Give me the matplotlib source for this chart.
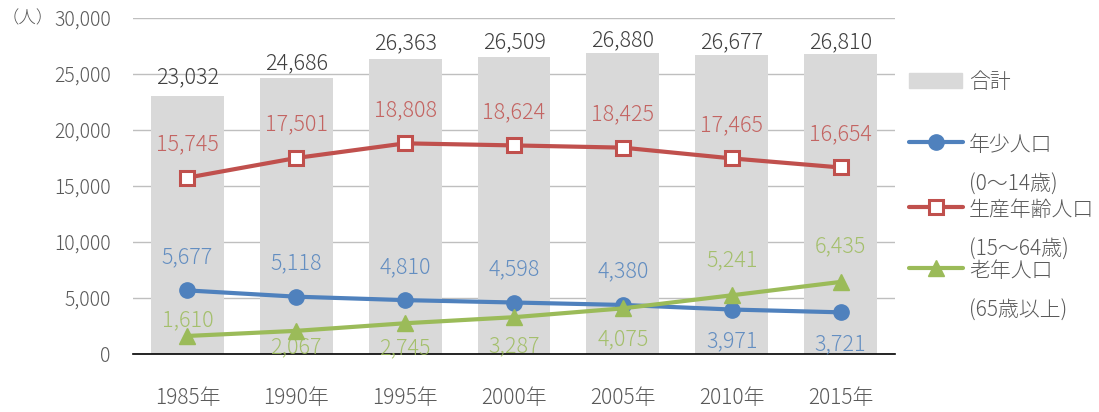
import matplotlib
matplotlib.use('Agg')
from matplotlib import pyplot as plt
from matplotlib.lines import Line2D
from matplotlib.patches import Rectangle

plt.rcParams['font.family'] = ['Noto Sans CJK JP', 'DejaVu Sans']
plt.rcParams['font.weight'] = 'light'

years = ['1985年', '1990年', '1995年', '2000年', '2005年', '2010年', '2015年']
total = [23032, 24686, 26363, 26509, 26880, 26677, 26810]
young = [5677, 5118, 4810, 4598, 4380, 3971, 3721]
working = [15745, 17501, 18808, 18624, 18425, 17465, 16654]
elderly = [1610, 2067, 2745, 3287, 4075, 5241, 6435]

# label offsets in points (above > 0, below < 0)
total_off = [13.7, 10.4, 11.2, 10.8, 9, 9, 8.6]
young_off = [24, 24, 24, 24, 24, -23, -23]
working_off = [24, 24, 24, 24, 24, 24, 24]
elderly_off = [11, -12, -18, -21, -22, 25, 26]

BLUE = '#4F81BD'
RED = '#C0504D'
GREEN = '#9BBB59'
GREY = '#D9D9D9'
TXT = '#595959'
LBL = 15.5


def main():
    fig = plt.figure(figsize=(10.99, 4.12), dpi=100)
    ax = fig.add_axes([133 / 1099, 58 / 412, 762 / 1099, 336 / 412])
    x = list(range(len(years)))

    ax.bar(x, total, width=0.67, color=GREY, zorder=1)
    for xi, v, o in zip(x, total, total_off):
        ax.annotate(f'{v:,}', (xi, v), xytext=(0, o), textcoords='offset points',
                    ha='center', va='center', fontsize=LBL, color='#404040')

    series = [
        (young, BLUE, dict(marker='o', markersize=11, markerfacecolor=BLUE), young_off),
        (working, RED, dict(marker='s', markersize=10, markerfacecolor='white',
                            markeredgewidth=2.2), working_off),
        (elderly, GREEN, dict(marker='^', markersize=12, markerfacecolor=GREEN), elderly_off),
    ]
    for vals, col, mk, offs in series:
        ax.plot(x, vals, color=col, lw=3, markeredgecolor=col, zorder=3, **mk)
        for xi, v, o in zip(x, vals, offs):
            ax.annotate(f'{v:,}', (xi, v), xytext=(0, o), textcoords='offset points',
                        ha='center', va='center', fontsize=LBL, color=col, alpha=0.85,
                        zorder=4)

    ax.set_xlim(-0.5, 6.5)
    ax.set_ylim(0, 30000)
    ax.set_yticks(range(0, 30001, 5000))
    ax.set_yticklabels([f'{t:,}' for t in range(0, 30001, 5000)])
    ax.set_xticks(x)
    ax.set_xticklabels(years)
    ax.tick_params(axis='y', length=0, pad=16, labelsize=14, labelcolor=TXT)
    ax.tick_params(axis='x', length=0, pad=24, labelsize=15, labelcolor=TXT)
    ax.yaxis.grid(True, color='#BFBFBF', lw=1)
    ax.set_axisbelow(True)
    for s in ['top', 'right', 'left']:
        ax.spines[s].set_visible(False)
    ax.spines['bottom'].set_color('black')
    ax.spines['bottom'].set_linewidth(1.2)
    ax.spines['bottom'].set_zorder(2)

    fig.text(2 / 1099, 1 - 18 / 412, '（人）', ha='left', va='center', fontsize=12.5, color=TXT)

    # legend drawn by hand
    W, H = 1099, 412

    def fx(px):
        return px / W

    def fy(py):
        return 1 - py / H

    fig.add_artist(Rectangle((fx(909), fy(88)), 53 / W, 15 / H, transform=fig.transFigure,
                             color=GREY))
    fig.text(fx(969), fy(82), '合計', ha='left', va='center', fontsize=15, color=TXT)

    entries = [
        (142, BLUE, dict(marker='o', markersize=11, markerfacecolor=BLUE),
         '年少人口', '(0〜14歳)'),
        (207, RED, dict(marker='s', markersize=10, markerfacecolor='white',
                        markeredgewidth=2.2), '生産年齢人口', '(15〜64歳)'),
        (268, GREEN, dict(marker='^', markersize=12, markerfacecolor=GREEN),
         '老年人口', '(65歳以上)'),
    ]
    for py, col, mk, lab1, lab2 in entries:
        fig.add_artist(Line2D([fx(909), fx(963)], [fy(py), fy(py)], color=col, lw=3,
                              solid_capstyle='round', transform=fig.transFigure))
        fig.add_artist(Line2D([fx(936)], [fy(py)], color=col, markeredgecolor=col,
                              transform=fig.transFigure, **mk))
        fig.text(fx(969), fy(py + 3), lab1, ha='left', va='center', fontsize=15, color=TXT)
        fig.text(fx(969), fy(py + 43), lab2, ha='left', va='center', fontsize=15, color=TXT)

    fig.savefig('out.png', dpi=100)


if __name__ == '__main__':
    main()
